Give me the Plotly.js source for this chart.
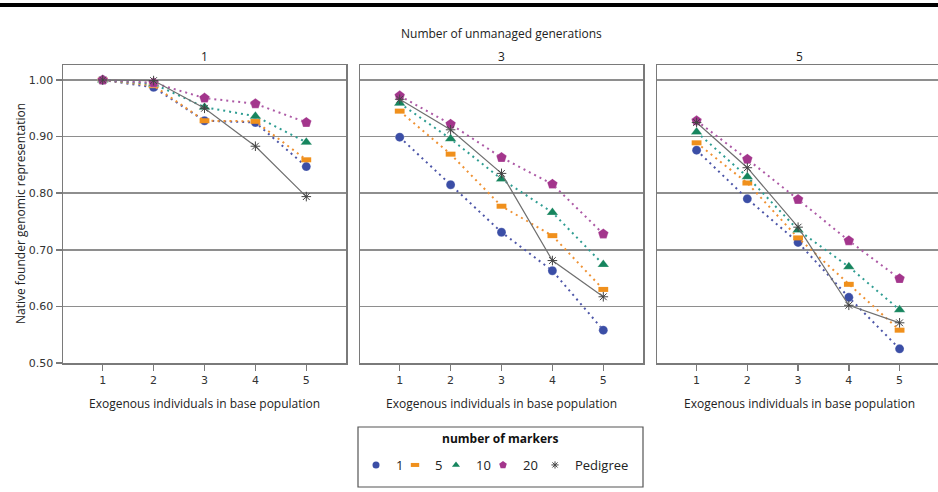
<!DOCTYPE html>
<html>
<head>
<meta charset="utf-8">
<script src="https://cdn.plot.ly/plotly-3.0.1.min.js"></script>
<style>html,body{margin:0;padding:0;background:#fff;}#chart{width:938px;height:492px;}</style>
</head>
<body>
<div id="chart"></div>
<script>
// Categories (exogenous individuals in base population)
var exogenous = [1, 2, 3, 4, 5];
var generations = ["1", "3", "5"];
var seriesNames = ["1", "5", "10", "20", "Pedigree"];

// Panel "1" unmanaged generation
var g1_m1  = [1.000, 0.987, 0.928, 0.925, 0.847];
var g1_m5  = [1.000, 0.990, 0.928, 0.927, 0.859];
var g1_m10 = [1.000, 0.993, 0.952, 0.936, 0.890];
var g1_m20 = [1.000, 0.995, 0.968, 0.958, 0.925];
var g1_ped = [1.000, 0.999, 0.950, 0.883, 0.794];

// Panel "3" unmanaged generations
var g3_m1  = [0.899, 0.815, 0.731, 0.663, 0.558];
var g3_m5  = [0.945, 0.869, 0.777, 0.725, 0.630];
var g3_m10 = [0.959, 0.896, 0.825, 0.766, 0.674];
var g3_m20 = [0.972, 0.922, 0.863, 0.816, 0.728];
var g3_ped = [0.966, 0.912, 0.835, 0.681, 0.617];

// Panel "5" unmanaged generations
var g5_m1  = [0.876, 0.790, 0.713, 0.616, 0.525];
var g5_m5  = [0.889, 0.818, 0.721, 0.639, 0.558];
var g5_m10 = [0.908, 0.829, 0.735, 0.670, 0.594];
var g5_m20 = [0.928, 0.860, 0.789, 0.716, 0.649];
var g5_ped = [0.925, 0.845, 0.740, 0.602, 0.571];

var yTickVals = [0.5, 0.6, 0.7, 0.8, 0.9, 1.0];
var yTickText = ["0.50", "0.60", "0.70", "0.80", "0.90", "1.00"];

var panels = [
  [g1_m1, g1_m5, g1_m10, g1_m20, g1_ped],
  [g3_m1, g3_m5, g3_m10, g3_m20, g3_ped],
  [g5_m1, g5_m5, g5_m10, g5_m20, g5_ped]
];

var W = 938, H = 492;
function py(v) { return 1 - v / H; }
function px(v) { return v / W; }

var faint = {color: "rgba(255,255,255,0.5)", width: 0.5};
var styles = [
  {sym: "circle", mcol: "#3b4ea6", lcol: "#4d56a8", size: 9, dash: "2px,4px", lw: 2, mline: faint, lsize: 7, lline: {width: 0}},
  {sym: "line-ew", mcol: "#f0901c", lcol: "#ef9234", size: 7, dash: "2px,4px", lw: 2, mline: {color: "#f0901c", width: 5}, lsize: 6, lline: {color: "#f0901c", width: 4}},
  {sym: "triangle-up", mcol: "#16855e", lcol: "#2f9d92", size: 10, dash: "2px,4px", lw: 2, mline: faint, lsize: 7, lline: {width: 0}},
  {sym: "pentagon", mcol: "#a3358c", lcol: "#ad5aa6", size: 11, dash: "2px,4px", lw: 2, mline: faint, lsize: 8, lline: {width: 0}},
  {sym: "asterisk-open", mcol: "#444444", lcol: "#6f6f6f", size: 8, dash: "solid", lw: 1.2, mline: {color: "#444444", width: 1}, lsize: 6, lline: {color: "#444", width: 1}}
];
// legend marker centres (px) in the legend box
var legendMarkerX = [378, 417, 458, 505, 557];

var traces = [];
panels.forEach(function (series, p) {
  var xa = p === 0 ? "x" : "x" + (p + 1);
  var ya = p === 0 ? "y" : "y" + (p + 1);
  series.forEach(function (vals, s) {
    var st = styles[s];
    traces.push({
      x: exogenous, y: vals, xaxis: xa, yaxis: ya,
      type: "scatter", mode: "lines+markers",
      name: seriesNames[s], showlegend: false,
      line: {color: st.lcol, width: st.lw, dash: st.dash},
      marker: {symbol: st.sym, color: st.mcol, size: st.size, line: st.mline}
    });
  });
});

var layout = {
  width: W, height: H,
  margin: {l: 0, r: 0, t: 0, b: 0, pad: 0},
  paper_bgcolor: "#fff", plot_bgcolor: "#fff",
  showlegend: true
};

// legend entries (markers only), one small legend each for exact placement
styles.forEach(function (st, s) {
  var key = s === 0 ? "legend" : "legend" + (s + 1);
  traces.push({
    x: [null], y: [null], type: "scatter", mode: "markers",
    name: seriesNames[s], showlegend: true, legend: key,
    marker: {symbol: st.sym, color: st.mcol, size: st.lsize, line: st.lline}
  });
  layout[key] = {
    x: px(legendMarkerX[s] - 22), y: py(465), xanchor: "left", yanchor: "middle",
    xref: "paper", yref: "paper",
    font: {family: "Open Sans, Noto Sans, sans-serif", size: 13, color: "#222"},
    bgcolor: "rgba(0,0,0,0)", borderwidth: 0, itemwidth: 30, itemclick: false
  };
});

var gridCol = "#8e8e8e";
var frameCol = "#7a7a7a";
var tickFont = {family: "DejaVu Sans, Verdana, sans-serif", size: 11, color: "#333"};
var titleFont = {family: "Open Sans, Noto Sans, sans-serif", size: 12, color: "#222"};

function xaxisDef(d0, d1, r1, anchor) {
  return {
    domain: [d0, d1], range: [0.22, r1], anchor: anchor,
    tickvals: exogenous, ticktext: exogenous.map(String),
    ticks: "outside", ticklen: 6, tickwidth: 1.5, tickcolor: frameCol,
    showgrid: false, zeroline: false,
    showline: true, linecolor: frameCol, linewidth: 1.5, mirror: true,
    tickfont: tickFont, fixedrange: true
  };
}
function yaxisDef(anchor, showLabels) {
  return {
    domain: [py(363), py(65)], range: [0.5, 1.0265], anchor: anchor,
    tickvals: yTickVals, ticktext: yTickText,
    showticklabels: showLabels,
    ticks: showLabels ? "outside" : "", ticklen: 6, tickwidth: 1.5, tickcolor: frameCol,
    showgrid: true, gridcolor: gridCol, gridwidth: 1.5,
    zeroline: false,
    showline: true, linecolor: frameCol, linewidth: 1.5, mirror: true,
    tickfont: tickFont, fixedrange: true
  };
}

layout.xaxis = xaxisDef(px(63), px(346), 5.78, "y");
layout.yaxis = yaxisDef("x", true);
layout.xaxis2 = xaxisDef(px(360), px(643), 5.78, "y2");
layout.yaxis2 = yaxisDef("x2", false);
layout.xaxis3 = xaxisDef(px(657), 1, 5.757, "y3");
layout.yaxis3 = yaxisDef("x3", false);

function ann(text, x, y, extra) {
  var a = {text: text, x: px(x), y: py(y), xref: "paper", yref: "paper", showarrow: false,
           font: titleFont, xanchor: "center", yanchor: "middle"};
  for (var k in (extra || {})) a[k] = extra[k];
  return a;
}
layout.annotations = [
  ann("Number of unmanaged generations", 501, 33),
  ann(generations[0], 204, 57),
  ann(generations[1], 501, 57),
  ann(generations[2], 799, 57),
  ann("Exogenous individuals in base population", 204, 403),
  ann("Exogenous individuals in base population", 501, 403),
  ann("Exogenous individuals in base population", 799, 403),
  ann("Native founder genomic representation", 20, 214, {textangle: -90}),
  ann("<b>number of markers</b>", 500, 438, {font: {family: "Open Sans, Noto Sans, sans-serif", size: 12, color: "#111"}})
];

layout.shapes = [
  {type: "line", xref: "paper", yref: "paper", x0: 0, x1: 1, y0: py(5), y1: py(5), line: {color: "#000", width: 4}},
  {type: "rect", xref: "paper", yref: "paper", x0: px(358), x1: px(643), y0: py(427), y1: py(487), line: {color: "#555", width: 1.2}, fillcolor: "rgba(0,0,0,0)"}
];

Plotly.newPlot("chart", traces, layout, {displayModeBar: false, staticPlot: true});
</script>
</body>
</html>
